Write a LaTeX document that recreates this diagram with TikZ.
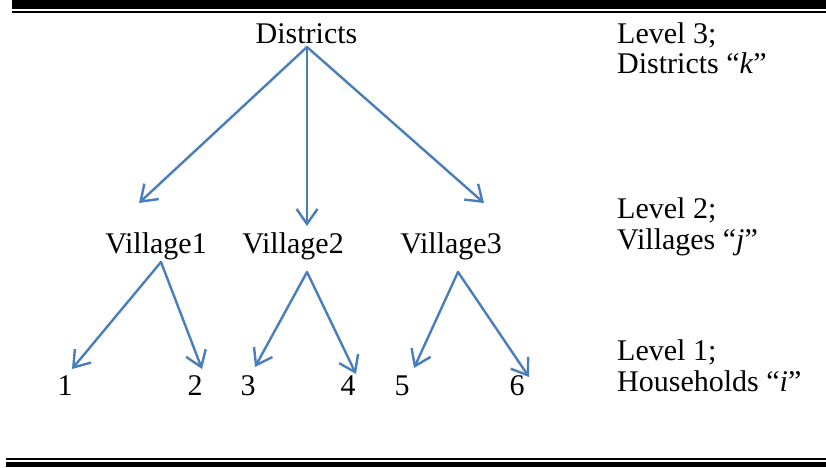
\documentclass[tikz,border=0pt]{standalone}
\usepackage{fontspec}
\setmainfont{Liberation Serif}
\usetikzlibrary{arrows.meta}
\definecolor{linkblue}{RGB}{74,126,187}
\begin{document}
\begin{tikzpicture}[x=1pt,y=-1pt,
  lbl/.style={inner sep=0pt,anchor=base,font=\fontsize{30}{36}\selectfont},
  side/.style={inner sep=0pt,anchor=base west,font=\fontsize{30}{36}\selectfont},
  link/.style={draw=linkblue,line width=2.4pt,line cap=round,line join=round,
    -{Straight Barb[length=15pt,width=21pt,line width=2.4pt]}},
  rule/.style={fill=black,draw=none}]
\useasboundingbox (0,0) rectangle (826,467);
% rules
\fill[rule] (12,0) rectangle (826,9);
\fill[rule] (12,11) rectangle (826,13.3);
\fill[rule] (6,457.7) rectangle (826,459.8);
\fill[rule] (6,461.8) rectangle (826,467);
% nodes
\node[lbl] (dist) at (306.5,43) {Districts};
\node[lbl] (v1) at (156,253) {Village1};
\node[lbl] (v2) at (293,253) {Village2};
\node[lbl] (v3) at (451,253) {Village3};
\node[lbl] (h1) at (65,395) {1};
\node[lbl] (h2) at (195,395) {2};
\node[lbl] (h3) at (248,395) {3};
\node[lbl] (h4) at (348,395) {4};
\node[lbl] (h5) at (402,395) {5};
\node[lbl] (h6) at (517,395) {6};
% side labels
\node[side] (l3a) at (617,43) {Level 3;};
\node[side] (l3b) at (617,73) {Districts “\textit{k}”};
\node[side] (l2a) at (617,218) {Level 2;};
\node[side] (l2b) at (617,249) {Villages “\textit{j}”};
\node[side] (l1a) at (617,360) {Level 1;};
\node[side] (l1b) at (617,391) {Households “\textit{i}”};
% connector ends
\coordinate (dA) at (307,47);
\coordinate (v1A) at (161,262);
\coordinate (v2A) at (307,272);
\coordinate (v3A) at (458,272);
\coordinate (v1T) at (139,203);
\coordinate (v2T) at (307,226);
\coordinate (v3T) at (484,203);
\coordinate (h1T) at (72,369);
\coordinate (h2T) at (202,369);
\coordinate (h3T) at (255,367);
\coordinate (h4T) at (356,374);
\coordinate (h5T) at (414,368);
\coordinate (h6T) at (529,377);
% connectors
\draw[link] (dA) -- (v1T);
\draw[link] (dA) -- (v2T);
\draw[link] (dA) -- (v3T);
\draw[link] (v1A) -- (h1T);
\draw[link] (v1A) -- (h2T);
\draw[link] (v2A) -- (h3T);
\draw[link] (v2A) -- (h4T);
\draw[link] (v3A) -- (h5T);
\draw[link] (v3A) -- (h6T);
\end{tikzpicture}
\end{document}
